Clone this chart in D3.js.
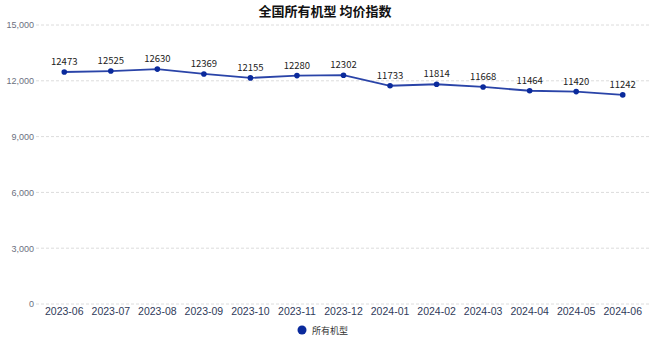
<!DOCTYPE html>
<html>
<head>
<meta charset="utf-8">
<script src="https://cdn.jsdelivr.net/npm/d3@7"></script>
<style>
  html, body { margin: 0; padding: 0; background: #fff; }
  svg { display: block; font-family: "Microsoft YaHei", "Noto Sans CJK SC", "Noto Sans", sans-serif; }
</style>
</head>
<body>
<svg id="chart" width="650" height="343"></svg>
<script>
const months = ["2023-06","2023-07","2023-08","2023-09","2023-10","2023-11","2023-12",
                "2024-01","2024-02","2024-03","2024-04","2024-05","2024-06"];
const priceIndex = [12473,12525,12630,12369,12155,12280,12302,11733,11814,11668,11464,11420,11242];
const yTicks = [0,3000,6000,9000,12000,15000];
const seriesName = "所有机型";
const title = "全国所有机型 均价指数";

const W = 650, H = 343;
const margin = { top: 25, right: 4, bottom: 39, left: 41 };
const svg = d3.select("#chart");

const x = d3.scaleBand().domain(months).range([margin.left, W - margin.right]);
const y = d3.scaleLinear().domain([0, 15000]).range([H - margin.bottom, margin.top]);

// title
svg.append("text")
  .attr("x", 325).attr("y", 16)
  .attr("text-anchor", "middle")
  .attr("font-size", 13).attr("font-weight", "bold").attr("fill", "#111")
  .text(title);

// horizontal dashed grid
svg.append("g").selectAll("line").data(yTicks).join("line")
  .attr("x1", 36).attr("x2", W)
  .attr("y1", d => y(d)).attr("y2", d => y(d))
  .attr("stroke", "#dcdcdc").attr("stroke-dasharray", "3,2").attr("stroke-width", 1);

// y axis labels
const yAxis = d3.axisLeft(y).tickValues(yTicks).tickFormat(d3.format(",")).tickSize(0).tickPadding(0);
const gy = svg.append("g").attr("transform", `translate(34,0)`).call(yAxis);
gy.select(".domain").remove();
gy.selectAll("text").attr("font-size", 9).attr("fill", "#6b7080").attr("font-family", "inherit");

// x axis labels
const xAxis = d3.axisBottom(x).tickSize(0).tickPadding(0);
const gx = svg.append("g").attr("transform", `translate(0,${H - margin.bottom + 4})`).call(xAxis);
gx.select(".domain").remove();
gx.selectAll("text").attr("font-size", 10.5).attr("fill", "#2f3a5a").attr("font-family", "inherit");

const cx = d => x(d) + x.bandwidth() / 2;
const data = months.map((m, i) => ({ m, v: priceIndex[i] }));

// line
svg.append("path").datum(data)
  .attr("fill", "none").attr("stroke", "#2a44a8").attr("stroke-width", 1.8)
  .attr("d", d3.line().x(d => cx(d.m)).y(d => y(d.v)));

// points
svg.append("g").selectAll("circle").data(data).join("circle")
  .attr("cx", d => cx(d.m)).attr("cy", d => y(d.v)).attr("r", 2.8)
  .attr("fill", "#0a2a9c");

// value labels
svg.append("g").selectAll("text").data(data).join("text")
  .attr("x", d => cx(d.m)).attr("y", d => y(d.v) - 7)
  .attr("text-anchor", "middle").attr("font-size", 9.5).attr("fill", "#222")
  .text(d => d.v);

// legend
const lg = svg.append("g").attr("transform", "translate(302,330)");
lg.append("circle").attr("r", 4.5).attr("fill", "#0a2a9c");
lg.append("text").attr("x", 10).attr("y", 3.5).attr("font-size", 9).attr("fill", "#333").text(seriesName);
</script>
</body>
</html>
